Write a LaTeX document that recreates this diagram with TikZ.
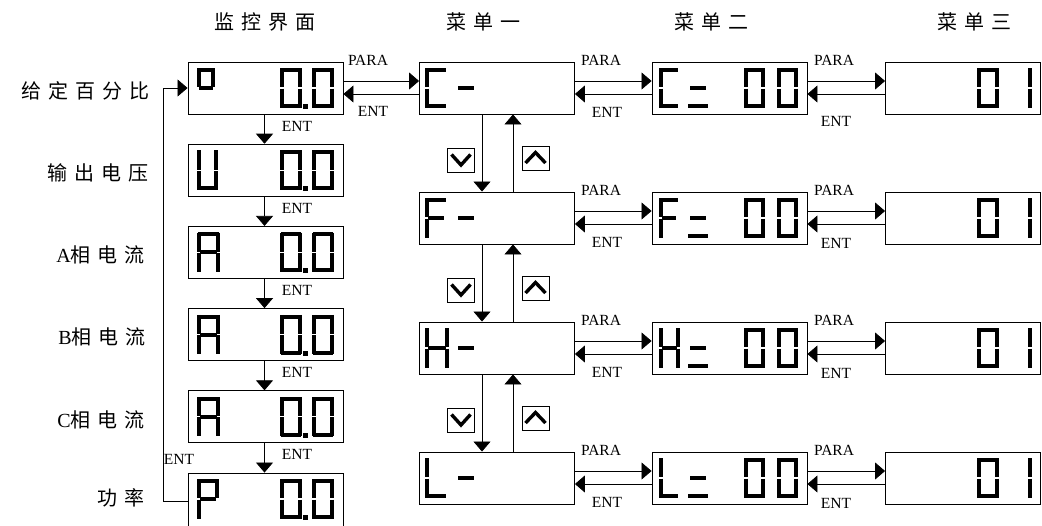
\documentclass[tikz,border=0pt]{standalone}
\usepackage{fontspec}
\usepackage{graphicx}
\setmainfont{Liberation Serif}
\newfontfamily\cjkfont[LetterSpace=35]{Noto Sans CJK SC}
\usetikzlibrary{arrows.meta}
\tikzset{
  box/.style={draw, line width=0.9pt, minimum width=155pt, minimum height=52pt, inner sep=0pt},
  seg/.style={line width=3.9pt, line cap=butt},
  conn/.style={line width=0.8pt, -{Triangle[length=10pt,width=17pt]}},
  keylbl/.style={font=\fontsize{15.5}{15.5}\selectfont, inner sep=0pt},
  cjklbl/.style={font=\fontsize{20}{20}\selectfont\cjkfont, inner sep=0pt},
  btn/.style={draw, line width=0.8pt, minimum width=27pt, minimum height=24pt, inner sep=0pt},
  chev/.style={line width=3.4pt},
}
% seven segment glyph: #1 x, #2 top y, #3 xscale, #4 segment list
\newcommand\sevdig[4]{%
  \begin{scope}[shift={(#1,#2)},xscale=#3]
    \coordinate (sa1) at (1,2);     \coordinate (sa2) at (21,2);
    \coordinate (sb1) at (20,0.3);  \coordinate (sb2) at (20,19.4);
    \coordinate (sc1) at (20,20.6); \coordinate (sc2) at (20,39.7);
    \coordinate (sd1) at (1,38);    \coordinate (sd2) at (21,38);
    \coordinate (se1) at (2,20.6);  \coordinate (se2) at (2,39.7);
    \coordinate (sf1) at (2,0.3);   \coordinate (sf2) at (2,19.4);
    \coordinate (sg1) at (3,20);    \coordinate (sg2) at (19,20);
    \foreach \sg in {#4} {\draw[seg] (s\sg1) -- (s\sg2);}
  \end{scope}}
% monitor row: #1 box top, #2 letter segments, #3 letter xscale
\newcommand\monrow[3]{%
  \sevdig{197}{#1+6}{#3}{#2}
  \sevdig{280}{#1+6}{1}{a,b,c,d,e,f}
  \fill (303,#1+42) rectangle ++(5,5);
  \sevdig{312}{#1+6}{1}{a,b,c,d,e,f}}
% menu rows: #1 box top, #2 letter segments, #3 letter xscale
\newcommand\menuone[3]{%
  \sevdig{425}{#1+6}{#3}{#2}
  \sevdig{455}{#1+6}{1}{g}}
\newcommand\menutwo[3]{%
  \sevdig{659}{#1+6}{#3}{#2}
  \sevdig{687}{#1+6}{1}{g,d}
  \sevdig{744}{#1+6}{0.95}{a,b,c,d,e,f}
  \sevdig{777}{#1+6}{0.95}{a,b,c,d,e,f}}
\newcommand\menuthree[1]{%
  \sevdig{977}{#1+6}{1}{a,b,c,d,e,f}
  \sevdig{1010}{#1+6}{1}{b,c}}
\begin{document}
\begin{tikzpicture}[x=1pt,y=-1pt]
\useasboundingbox (0,0) rectangle (1042,526);

% headers
\node[cjklbl] (h0) at (265,22) {监控界面};
\node[cjklbl] (h1) at (483,22) {菜单一};
\node[cjklbl] (h2) at (711,22) {菜单二};
\node[cjklbl] (h3) at (974,22) {菜单三};

% left labels
\node[cjklbl, anchor=east] (l1) at (150,91) {给定百分比};
\node[cjklbl, anchor=east] (l2) at (149,173) {输出电压};
\node[cjklbl, anchor=east] (l3) at (145,255) {{\rmfamily A}相电流};
\node[cjklbl, anchor=east] (l4) at (146,337) {{\rmfamily B}相电流};
\node[cjklbl, anchor=east] (l5) at (145,420) {{\rmfamily C}相电流};
\node[cjklbl, anchor=east] (l6) at (145,498) {功率};

% monitor column
\node[box] (m1) at (265.5,88) {};
\node[box] (m2) at (265.5,170.2) {};
\node[box] (m3) at (265.5,252.4) {};
\node[box] (m4) at (265.5,334.6) {};
\node[box] (m5) at (265.5,416.8) {};
\node[box, minimum height=56pt] (m6) at (265.5,501) {};
\monrow{62}{a,b,f,g}{0.82}
\monrow{144.2}{b,c,d,e,f}{0.95}
\monrow{226.4}{a,b,c,e,f,g}{1.05}
\monrow{308.6}{a,b,c,e,f,g}{1.05}
\monrow{390.8}{a,b,c,e,f,g}{1.05}
\monrow{473}{a,b,e,f,g}{1}

\foreach \a/\b in {m1/m2,m2/m3,m3/m4,m4/m5,m5/m6}
  \draw[conn] ([xshift=-1pt]\a.south) -- ([xshift=-1pt]\b.north);
\foreach \y in {126,208.2,290.4,372.6,454.8}
  \node[keylbl] at (297,\y) {ENT};
\draw[conn] (m6.west) -- ++(-24,0) |- (m1.west);
\node[keylbl] (fbl) at (179,459) {ENT};

% menu columns
\foreach \r/\y in {1/88,2/218,3/348,4/478}{
  \node[box] (c\r) at (497,\y) {};
  \node[box] (d\r) at (729.5,\y) {};
  \node[box] (e\r) at (963,\y) {};
}
\menuone{62}{a,d,e,f}{1}
\menuone{192}{a,e,f,g}{1}
\menuone{322}{b,c,e,f,g}{1.1}
\menuone{452}{d,e,f}{1}
\menutwo{62}{a,d,e,f}{0.91}
\menutwo{192}{a,e,f,g}{0.91}
\menutwo{322}{b,c,e,f,g}{0.95}
\menutwo{452}{d,e,f}{0.91}
\menuthree{62}
\menuthree{192}
\menuthree{322}
\menuthree{452}

% horizontal connectors
\draw[conn] ([yshift=7pt]m1.east) -- ([yshift=7pt]c1.west);
\draw[conn] ([yshift=-6pt]c1.west) -- ([yshift=-6pt]m1.east);
\node[keylbl] at (368,60) {PARA};
\node[keylbl] at (373,111) {ENT};
\foreach \r/\t in {1/62,2/192,3/322,4/452}{
  \draw[conn] ([yshift=7pt]c\r.east) -- ([yshift=7pt]d\r.west);
  \draw[conn] ([yshift=-6pt]d\r.west) -- ([yshift=-6pt]c\r.east);
  \draw[conn] ([yshift=7pt]d\r.east) -- ([yshift=7pt]e\r.west);
  \draw[conn] ([yshift=-6pt]e\r.west) -- ([yshift=-6pt]d\r.east);
  \node[keylbl] at (601,\t-2) {PARA};
  \node[keylbl] at (834,\t-2) {PARA};
  \node[keylbl] at (607,\t+50) {ENT};
}
\node[keylbl] at (836,121) {ENT};
\foreach \t in {192,322,452}
  \node[keylbl] at (836,\t+51) {ENT};

% vertical connectors and keys in menu one
\foreach \a/\b/\y in {1/2/153,2/3/283,3/4/413}{
  \draw[conn] ([xshift=-15pt]c\a.south) -- ([xshift=-15pt]c\b.north);
  \draw[conn] ([xshift=16pt]c\b.north) -- ([xshift=16pt]c\a.south);
  \node[btn] (dn\a) at (460.5,\y+7) {};
  \node[btn] (up\a) at (535.5,\y+5) {};
  \draw[chev] (dn\a.center) ++(-9,-5.5) -- ++(9.5,10.5) -- ++(9.5,-10.5);
  \draw[chev] (up\a.center) ++(-10,5) -- ++(10,-10.5) -- ++(10,10.5);
}
\end{tikzpicture}
\end{document}
